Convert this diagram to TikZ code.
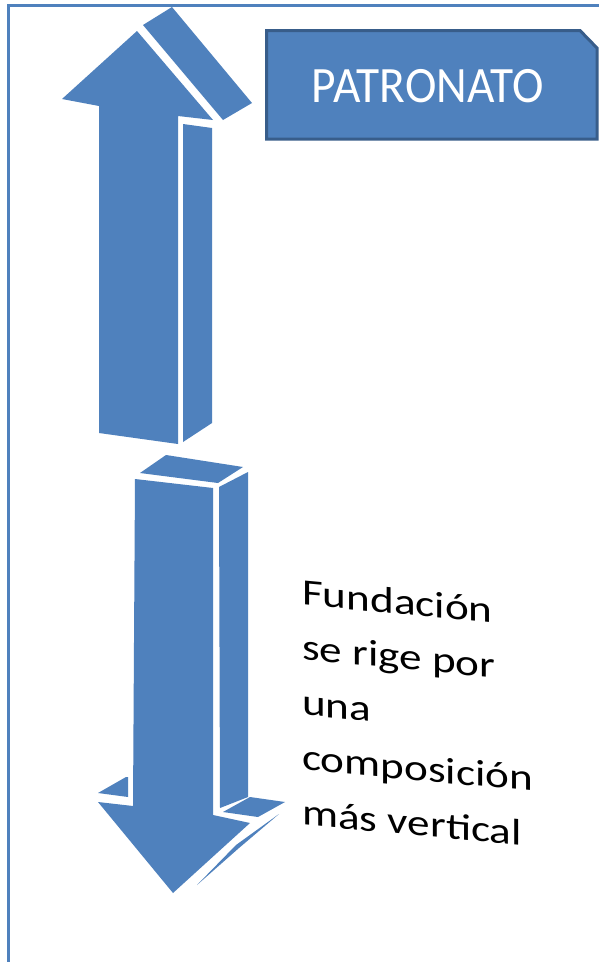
\documentclass[tikz,border=0pt]{standalone}
\usepackage{fontspec}
\setmainfont{Carlito}
\definecolor{ablue}{HTML}{4F81BD}
\definecolor{dblue}{HTML}{385D8A}
\begin{document}
\begin{tikzpicture}[x=1pt,y=1pt,
  face/.style={fill=ablue, draw=none},
  frameline/.style={draw=ablue, line width=3pt},
  boxstyle/.style={draw=dblue, fill=ablue, line width=3pt, line join=miter}]
\useasboundingbox (0,0) rectangle (599,-962);
\fill[white] (0,0) rectangle (599,-962);
% outer frame
\draw[frameline] (8,-962) -- (8,-5) -- (599,-5);
% ---- up arrow ----
% front face
\fill[face] (99,-433) -- (99,-106) -- (62,-99) -- (137,-31) -- (213,-120) -- (178,-116) -- (178,-444) -- cycle;
% slanted slab (head side)
\fill[face] (143,-25) -- (172,-7) -- (252,-103) -- (223,-120) -- cycle;
% shaft side face
\fill[face] (183,-124) -- (212,-128) -- (212,-423) -- (183,-442) -- cycle;
% ---- down arrow ----
% top face
\fill[face] (140,-473) -- (166,-455) -- (243,-467) -- (218,-483) -- cycle;
% front face
\fill[face] (135,-479) -- (213,-488) -- (213,-815) -- (250,-823) -- (173,-893) -- (98,-802) -- (133,-806) -- cycle;
% shaft side face
\fill[face] (219,-487) -- (248,-472) -- (248,-797) -- (220,-808) -- cycle;
% left barb top
\fill[face] (98,-793) -- (126,-777) -- (128,-777) -- (128,-797) -- cycle;
% right barb top
\fill[face] (223,-812) -- (250,-797) -- (285,-802) -- (258,-817) -- cycle;
% right slope sliver
\fill[face] (279,-814) -- (239,-848) -- (197,-885) -- (236,-845) -- cycle;
% ---- PATRONATO box ----
\draw[boxstyle] (266.5,-30.5) -- (580,-30.5) -- (597,-48) -- (597,-139) -- (266.5,-139) -- cycle;
\node[text=white, inner sep=0pt] (patronato) at (428,-86.5)
  {\scalebox{0.93}[1]{\fontsize{51}{51}\selectfont PATRONATO}};
% ---- text ----
\begin{scope}[shift={(302,-579)}, xscale=1.22, yslant=-0.112]
\node[transform shape, anchor=north west, inner sep=0pt, align=left,
      font=\fontsize{37}{55}\selectfont] (fund) at (0,0)
  {Fundación\\se rige por\\una\\composición\\más vertical};
\end{scope}
\end{tikzpicture}
\end{document}
